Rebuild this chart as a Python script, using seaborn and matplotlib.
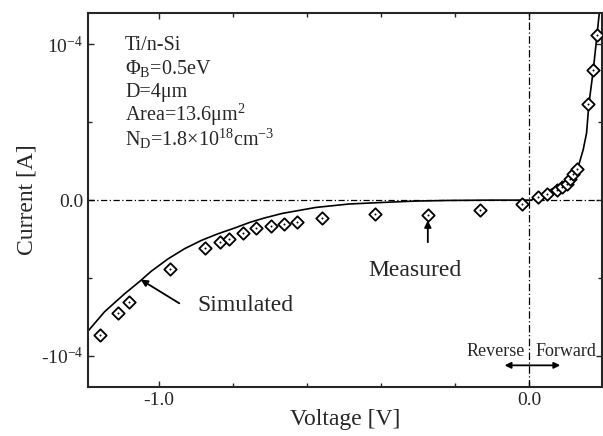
import matplotlib
matplotlib.use("Agg")
import matplotlib.pyplot as plt
import seaborn as sns
import pandas as pd
from matplotlib.ticker import MultipleLocator, FixedLocator

# Measured data (V, I in units of 1e-4 A)
meas_v = [-1.157, -1.109, -1.080, -0.969, -0.876, -0.835, -0.810, -0.772, -0.737,
          -0.698, -0.661, -0.627, -0.558, -0.417, -0.274, -0.132, -0.021,
          0.024, 0.047, 0.073, 0.087, 0.100, 0.109, 0.118, 0.127, 0.159, 0.172, 0.182]
meas_i = [-0.864, -0.726, -0.651, -0.444, -0.307, -0.269, -0.248, -0.210, -0.180,
          -0.167, -0.153, -0.138, -0.115, -0.089, -0.094, -0.064, -0.025,
          0.017, 0.038, 0.066, 0.081, 0.102, 0.134, 0.165, 0.197, 0.616, 0.834, 1.057]

# Simulated curve
sim_v = [-1.190, -1.145, -1.091, -1.051, -1.020, -0.975, -0.930, -0.885, -0.841,
         -0.796, -0.753, -0.715, -0.666, -0.576, -0.487, -0.397, -0.307, -0.218,
         -0.10, 0.005, 0.06, 0.105, 0.132, 0.145, 0.154, 0.160, 0.172, 0.182, 0.188]
sim_i = [-0.840, -0.715, -0.600, -0.522, -0.457, -0.378, -0.312, -0.259, -0.217,
         -0.180, -0.142, -0.115, -0.085, -0.047, -0.025, -0.015, -0.006, -0.002,
         0.0, 0.0, 0.07, 0.134, 0.218, 0.325, 0.431, 0.611, 0.834, 1.057, 1.195]

scale = 1e-4
sim_df = pd.DataFrame({"V": sim_v, "I": [v * scale for v in sim_i]})
meas_df = pd.DataFrame({"V": meas_v, "I": [v * scale for v in meas_i]})

sns.set_style("ticks")
plt.rcParams["font.family"] = ["Liberation Serif", "DejaVu Serif"]
plt.rcParams["mathtext.fontset"] = "custom"
plt.rcParams["mathtext.rm"] = "Liberation Serif"
plt.rcParams["mathtext.it"] = "Liberation Serif:italic"

fig = plt.figure(figsize=(6.03, 4.36), dpi=100)
ax = fig.add_axes([0.146, 0.112, 0.852, 0.858])

ax.axhline(0, color="black", lw=0.9, ls=(0, (5, 2, 1, 2)), zorder=1)
ax.axvline(0, color="black", lw=0.9, ls=(0, (6, 2, 1, 2)), zorder=1)

sns.lineplot(data=sim_df, x="V", y="I", ax=ax, color="black", lw=1.2, sort=False, zorder=2)
sns.scatterplot(data=meas_df, x="V", y="I", ax=ax, marker="D", s=40,
                facecolor="white", edgecolor="black", linewidth=1.3, zorder=3)
sns.scatterplot(data=meas_df, x="V", y="I", ax=ax, marker="o", s=2,
                color="black", linewidth=0, zorder=4)

ax.set_xlim(-1.19, 0.195)
ax.set_ylim(-1.2e-4, 1.2e-4)

ax.xaxis.set_major_locator(FixedLocator([-1.0, 0.0]))
ax.xaxis.set_minor_locator(MultipleLocator(0.2))
ax.yaxis.set_major_locator(FixedLocator([-1e-4, 0, 1e-4]))
ax.yaxis.set_minor_locator(FixedLocator([-0.5e-4, 0.5e-4]))
ax.set_xticklabels(["-1.0", "0.0"])
ax.set_yticklabels([r"-$10^{-4}$", "0.0", r"$10^{-4}$"])
ax.tick_params(which="both", direction="in", top=True, right=True, labelsize=14)
ax.tick_params(which="major", length=4, width=1)
ax.tick_params(which="minor", length=3, width=1)
for sp in ax.spines.values():
    sp.set_linewidth(1.5)

ax.set_xlabel("Voltage [V]", fontsize=17, labelpad=0)
ax.set_ylabel("Current [A]", fontsize=17, labelpad=2)

info = ["Ti/n-Si", r"$\Phi_{\rm B}$=0.5eV", "D=4μm",
        r"Area=13.6μm$^2$", r"N$_{\rm D}$=1.8×10$^{18}$cm$^{-3}$"]
for k, t in enumerate(info):
    ax.text(0.072, 0.914 - k * 0.0625, t, transform=ax.transAxes, fontsize=14.5,
            va="center", ha="left")

# Measured annotation
ax.annotate("", xy=(-0.274, -0.13e-4), xytext=(-0.274, -0.27e-4),
            arrowprops=dict(arrowstyle="-|>", color="black", lw=1.3,
                            shrinkA=0, shrinkB=0, mutation_scale=10))
ax.text(-0.309, -0.45e-4, "Measured", fontsize=17, ha="center", va="center")

# Simulated annotation
ax.annotate("", xy=(-1.048, -0.51e-4), xytext=(-0.944, -0.662e-4),
            arrowprops=dict(arrowstyle="-|>", color="black", lw=1.3,
                            shrinkA=0, shrinkB=0, mutation_scale=10))
ax.text(-0.767, -0.673e-4, "Simulated", fontsize=17, ha="center", va="center")

ax.text(-0.012, -0.97e-4, "Reverse", fontsize=13, ha="right", va="center")
ax.text(0.015, -0.97e-4, "Forward", fontsize=13, ha="left", va="center",
        clip_on=False)
ax.annotate("", xy=(-0.067, -1.06e-4), xytext=(0.083, -1.06e-4),
            arrowprops=dict(arrowstyle="<|-|>", color="black", lw=1.3,
                            shrinkA=0, shrinkB=0, mutation_scale=9))

fig.savefig("out.png", dpi=100)
